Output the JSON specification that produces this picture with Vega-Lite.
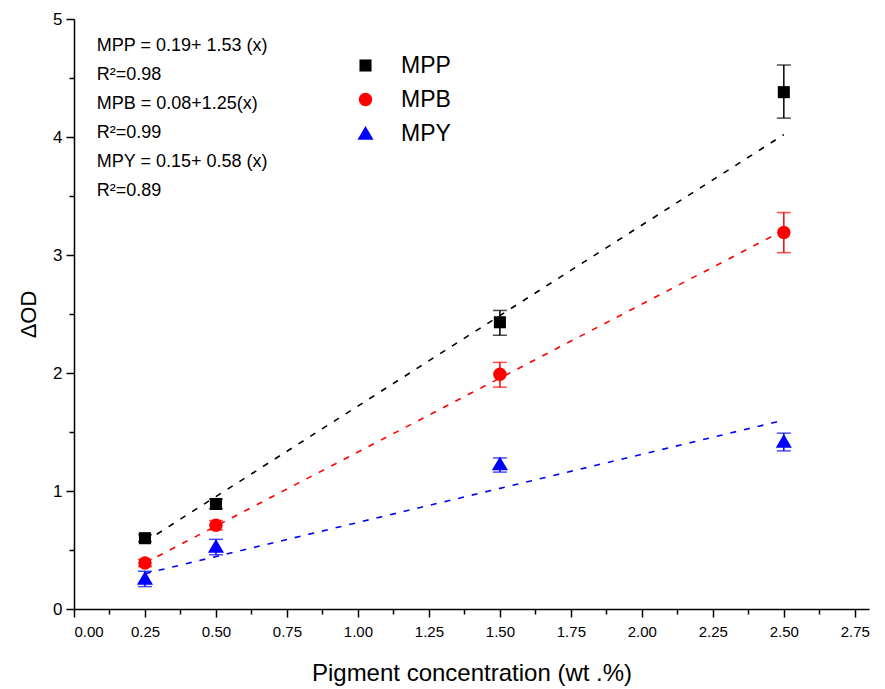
{
  "$schema": "https://vega.github.io/schema/vega-lite/v6.json",
  "width": 795,
  "height": 590,
  "autosize": {"type": "none"},
  "padding": {"left": 74, "top": 19, "right": 16, "bottom": 80},
  "background": "white",
  "config": {
    "view": {"stroke": null},
    "font": "Liberation Sans",
    "axis": {"grid": false, "domainColor": "black", "tickColor": "black", "labelColor": "black", "titleColor": "black", "domainWidth": 1.5, "tickWidth": 1.5, "titleFontWeight": "normal"},
    "legend": {"padding": 0, "orient": "none", "legendX": 280, "legendY": 35, "labelFontSize": 23, "symbolSize": 180, "symbolOpacity": 1, "labelOffset": 24, "rowPadding": 10, "symbolStrokeWidth": 0, "labelColor": "black"}
  },
  "datasets": {
    "pts": [
      {"series": "MPP", "x": 0.25, "y": 0.60, "lo": 0.57, "hi": 0.63},
      {"series": "MPP", "x": 0.5, "y": 0.89, "lo": 0.85, "hi": 0.93},
      {"series": "MPP", "x": 1.5, "y": 2.43, "lo": 2.32, "hi": 2.53},
      {"series": "MPP", "x": 2.5, "y": 4.38, "lo": 4.16, "hi": 4.61},
      {"series": "MPB", "x": 0.25, "y": 0.39, "lo": 0.36, "hi": 0.42},
      {"series": "MPB", "x": 0.5, "y": 0.71, "lo": 0.67, "hi": 0.75},
      {"series": "MPB", "x": 1.5, "y": 1.99, "lo": 1.88, "hi": 2.09},
      {"series": "MPB", "x": 2.5, "y": 3.19, "lo": 3.02, "hi": 3.36},
      {"series": "MPY", "x": 0.25, "y": 0.26, "lo": 0.19, "hi": 0.32},
      {"series": "MPY", "x": 0.5, "y": 0.53, "lo": 0.46, "hi": 0.59},
      {"series": "MPY", "x": 1.5, "y": 1.23, "lo": 1.16, "hi": 1.28},
      {"series": "MPY", "x": 2.5, "y": 1.42, "lo": 1.34, "hi": 1.49}
    ],
    "fit": [
      {"series": "MPP", "x": 0.25, "y": 0.57},
      {"series": "MPP", "x": 2.5, "y": 4.02},
      {"series": "MPB", "x": 0.25, "y": 0.39},
      {"series": "MPB", "x": 2.5, "y": 3.21},
      {"series": "MPY", "x": 0.25, "y": 0.30},
      {"series": "MPY", "x": 2.5, "y": 1.60}
    ],
    "notes": [
      {"label": "MPP = 0.19+ 1.53 (x)\nR²=0.98\nMPB = 0.08+1.25(x)\nR²=0.99\nMPY = 0.15+ 0.58 (x)\nR²=0.89"}
    ],
    "minor": [{"x": 0.125, "y": 0.5}]
  },
  "resolve": {"axis": {"x": "independent", "y": "independent"}},
  "layer": [
    {
      "data": {"name": "fit"},
      "mark": {"type": "line", "strokeDash": [6, 8], "strokeWidth": 1.6},
      "encoding": {
        "x": {"field": "x", "type": "quantitative", "scale": {"domain": [0, 2.75]},
          "axis": {"values": [0, 0.25, 0.5, 0.75, 1, 1.25, 1.5, 1.75, 2, 2.25, 2.5, 2.75], "format": ".2f", "orient": "bottom",
            "labelFontSize": 15, "tickSize": 8, "labelPadding": 7,
            "title": "Pigment concentration (wt .%)", "titleFontSize": 24, "titlePadding": 22}},
        "y": {"field": "y", "type": "quantitative", "scale": {"domain": [0, 5]},
          "axis": {"values": [0, 1, 2, 3, 4, 5], "orient": "left", "labelFontSize": 17, "tickSize": 8, "labelPadding": 4,
            "title": "ΔOD", "titleFontSize": 22, "titlePadding": 12}},
        "color": {"field": "series", "type": "nominal", "scale": {"domain": ["MPP", "MPB", "MPY"], "range": ["#000000", "#ff0000", "#0000ff"]}}
      }
    },
    {
      "data": {"name": "pts"},
      "mark": {"type": "rule", "strokeWidth": 1.5},
      "encoding": {
        "x": {"field": "x", "type": "quantitative", "axis": null},
        "y": {"field": "lo", "type": "quantitative", "axis": null},
        "y2": {"field": "hi"},
        "color": {"field": "series", "type": "nominal"}
      }
    },
    {
      "data": {"name": "pts"},
      "mark": {"type": "tick", "orient": "horizontal", "size": 14, "thickness": 1.5},
      "encoding": {
        "x": {"field": "x", "type": "quantitative", "axis": null},
        "y": {"field": "lo", "type": "quantitative", "axis": null},
        "color": {"field": "series", "type": "nominal"}
      }
    },
    {
      "data": {"name": "pts"},
      "mark": {"type": "tick", "orient": "horizontal", "size": 14, "thickness": 1.5},
      "encoding": {
        "x": {"field": "x", "type": "quantitative", "axis": null},
        "y": {"field": "hi", "type": "quantitative", "axis": null},
        "color": {"field": "series", "type": "nominal"}
      }
    },
    {
      "data": {"name": "pts"},
      "mark": {"type": "point", "filled": true, "opacity": 1, "size": 180},
      "encoding": {
        "x": {"field": "x", "type": "quantitative", "axis": null},
        "y": {"field": "y", "type": "quantitative", "axis": null},
        "color": {"field": "series", "type": "nominal", "legend": {"title": null}},
        "shape": {"field": "series", "type": "nominal", "scale": {"domain": ["MPP", "MPB", "MPY"], "range": ["M-0.9,-0.9H0.9V0.9H-0.9Z", "circle", "M0,-1.1L1.2,0.95L-1.2,0.95Z"]}, "legend": {"title": null}}
      }
    },
    {
      "data": {"name": "notes"},
      "mark": {"type": "text", "align": "left", "baseline": "top", "fontSize": 18, "lineBreak": "\n", "lineHeight": 29, "color": "black"},
      "encoding": {
        "x": {"datum": 0.08, "type": "quantitative", "axis": null},
        "y": {"datum": 4.85, "type": "quantitative", "axis": null},
        "text": {"field": "label"}
      }
    },
    {
      "data": {"name": "minor"},
      "mark": {"type": "point", "opacity": 0},
      "encoding": {
        "x": {"field": "x", "type": "quantitative",
          "axis": {"orient": "bottom", "values": [0.125, 0.375, 0.625, 0.875, 1.125, 1.375, 1.625, 1.875, 2.125, 2.375, 2.625], "labels": false, "domain": false, "tickSize": 5, "title": null}},
        "y": {"field": "y", "type": "quantitative",
          "axis": {"orient": "left", "values": [0.5, 1.5, 2.5, 3.5, 4.5], "labels": false, "domain": false, "tickSize": 5, "title": null}}
      }
    }
  ]
}
